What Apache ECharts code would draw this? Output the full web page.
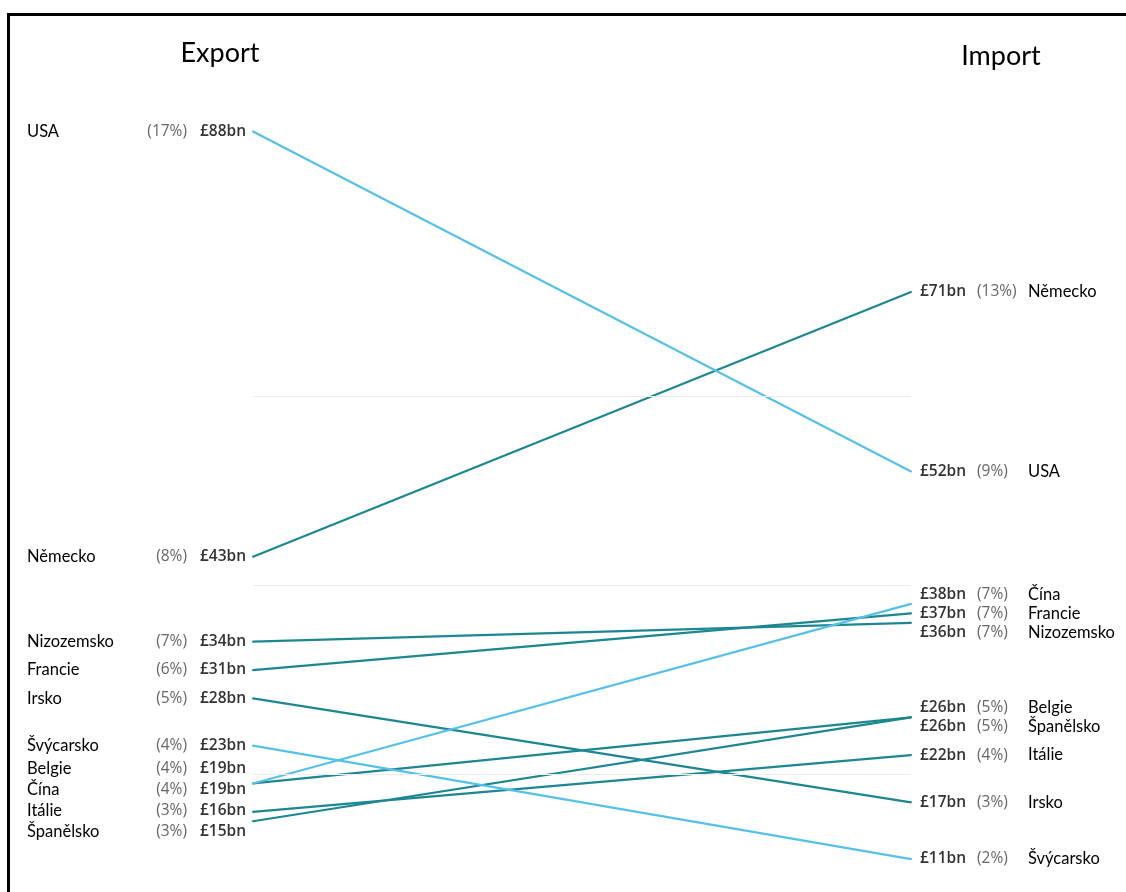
<!DOCTYPE html>
<html><head><meta charset="utf-8">
<script src="https://cdn.jsdelivr.net/npm/echarts@6/dist/echarts.min.js"></script>
<style>html,body{margin:0;padding:0;background:#fff}#c{width:1126px;height:892px}</style>
</head><body><div id="c"></div>
<script>
// ---- data ----
const columnTitles = ['Export', 'Import'];
const countries = ['USA', 'Německo', 'Nizozemsko', 'Francie', 'Irsko', 'Švýcarsko', 'Belgie', 'Čína', 'Itálie', 'Španělsko'];
const exportValues = [88, 43, 34, 31, 28, 23, 19, 19, 16, 15];
const exportShares = [17, 8, 7, 6, 5, 4, 4, 4, 3, 3];
const importValues = [52, 71, 36, 37, 17, 11, 26, 38, 22, 26];
const importShares = [9, 13, 7, 7, 3, 2, 5, 7, 4, 5];
const lightCountries = ['USA', 'Švýcarsko', 'Čína'];
const gridValues = [20, 40, 60];

// ---- style ----
const LIGHT = '#55c0e8';
const DARK = '#1c8790';
const NAME_FONT = 'Lato, "Open Sans", sans-serif';
const VAL_FONT = '"Open Sans", "Noto Sans", sans-serif';

const chart = echarts.init(document.getElementById('c'), null, {renderer: 'canvas'});

const leftRich = {
  n: {width: 122, align: 'left', fontFamily: NAME_FONT, fontSize: 16.5, color: '#000', lineHeight: 20},
  p: {width: 38, align: 'right', fontFamily: VAL_FONT, fontSize: 15.5, color: '#666', lineHeight: 20},
  v: {width: 59, align: 'right', fontFamily: VAL_FONT, fontSize: 15.5, fontWeight: 600, color: '#333', lineHeight: 20}
};
const rightRich = {
  v: {width: 57, align: 'left', fontFamily: VAL_FONT, fontSize: 15.5, fontWeight: 600, color: '#333', lineHeight: 20},
  p: {width: 51, align: 'left', fontFamily: VAL_FONT, fontSize: 15.5, color: '#666', lineHeight: 20},
  n: {align: 'left', fontFamily: NAME_FONT, fontSize: 16.5, color: '#000', lineHeight: 20}
};

function spread(ys, gap) {
  const idx = ys.map((y, i) => i).sort((a, b) => ys[a] - ys[b]);
  const blocks = idx.map(i => ({items: [i], sum: ys[i]}));
  let merged = true;
  while (merged) {
    merged = false;
    for (let k = 0; k < blocks.length - 1; k++) {
      const a = blocks[k], b = blocks[k + 1];
      const aBot = a.sum / a.items.length + (a.items.length - 1) / 2 * gap;
      const bTop = b.sum / b.items.length - (b.items.length - 1) / 2 * gap;
      if (bTop - aBot < gap) {
        a.items = a.items.concat(b.items); a.sum += b.sum;
        blocks.splice(k + 1, 1); merged = true; break;
      }
    }
  }
  const out = [];
  blocks.forEach(b => {
    const c = b.sum / b.items.length;
    b.items.forEach((i, k) => { out[i] = c + (k - (b.items.length - 1) / 2) * gap; });
  });
  return out;
}

function buildSeries(leftDy, rightDy) {
  const s = countries.map((name, i) => {
    const col = lightCountries.indexOf(name) >= 0 ? LIGHT : DARK;
    return {
      type: 'line', name: name,
      symbol: 'circle', symbolSize: 2, silent: true,
      lineStyle: {color: col, width: 2.2},
      itemStyle: {color: col},
      z: col === LIGHT ? 3 : 2,
      data: [
        {value: [0, exportValues[i]], label: {show: true, position: 'left', distance: 6, offset: [0, leftDy[i]],
          formatter: '{n|' + name + '}{p|(' + exportShares[i] + '%)}{v|£' + exportValues[i] + 'bn}', rich: leftRich}},
        {value: [1, importValues[i]], label: {show: true, position: 'right', distance: 8, offset: [0, rightDy[i]],
          formatter: '{v|£' + importValues[i] + 'bn}{p|(' + importShares[i] + '%)}{n|' + name + '}', rich: rightRich}}
      ]
    };
  });
  s.push({
    type: 'line', data: [], silent: true,
    markLine: {silent: true, symbol: 'none', label: {show: false},
      lineStyle: {color: '#ececec', width: 1, type: 'solid'},
      data: gridValues.map(v => ({yAxis: v}))}
  });
  return s;
}

const zeros = countries.map(() => 0);
chart.setOption({
  animation: false,
  backgroundColor: '#fff',
  grid: {left: 253, right: 215, top: 112.5, bottom: 23.5},
  xAxis: {type: 'value', min: 0, max: 1, show: false},
  yAxis: {type: 'value', min: 10, max: 90, show: false},
  graphic: [
    {type: 'rect', shape: {x: 8.5, y: 14.5, width: 1300, height: 1000}, style: {fill: 'none', stroke: '#000', lineWidth: 3}, z: 100},
    {type: 'text', x: 220, y: 53, style: {text: columnTitles[0], align: 'center', verticalAlign: 'middle', textAlign: 'center', textVerticalAlign: 'middle', font: '27px ' + NAME_FONT, fill: '#000'}},
    {type: 'text', x: 1001, y: 56, style: {text: columnTitles[1], align: 'center', verticalAlign: 'middle', textAlign: 'center', textVerticalAlign: 'middle', font: '27px ' + NAME_FONT, fill: '#000'}}
  ],
  series: buildSeries(zeros, zeros)
});

const leftPx = exportValues.map(v => chart.convertToPixel({gridIndex: 0}, [0, v])[1]);
const rightPx = importValues.map(v => chart.convertToPixel({gridIndex: 0}, [1, v])[1]);
const leftY = spread(leftPx, 21);
const rightY = spread(rightPx, 19);
chart.setOption({series: buildSeries(leftY.map((y, i) => y - leftPx[i]), rightY.map((y, i) => y - rightPx[i]))});
</script>
</body></html>
